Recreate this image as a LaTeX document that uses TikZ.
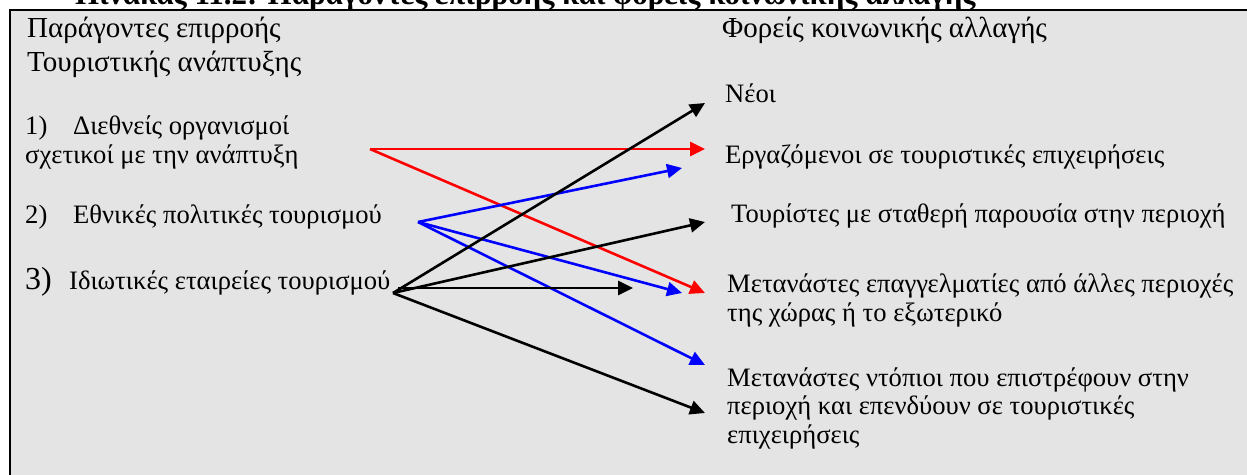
\documentclass[tikz,border=0pt]{standalone}
\usepackage{fontspec}
\setmainfont{Liberation Serif}
\usetikzlibrary{arrows.meta}
\definecolor{panelbg}{RGB}{228,228,228}
\tikzset{
  hdr/.style={anchor=base west, inner sep=0pt, align=left,
    font=\fontsize{29}{34}\selectfont},
  item/.style={anchor=base west, inner sep=0pt, align=left,
    font=\fontsize{26.6}{28.5}\selectfont},
  arr/.style={-{Triangle[length=15pt,width=14pt]}, line width=2.6pt},
}

\begin{document}
\begin{tikzpicture}[x=1pt, y=-1pt]
  \clip (0,0) rectangle (1247,474);
  \fill[panelbg] (10,10) rectangle (1260,490);
  \draw[line width=2.4pt] (10,490) -- (10,10) -- (1260,10);

  \node[anchor=base west, inner sep=0pt, font=\fontsize{31}{34}\selectfont\bfseries] (title) at (75,4)
    {Πίνακας 11.2: Παράγοντες επιρροής και φορείς κοινωνικής αλλαγής};

  \node[hdr] (hleft) at (27,71) {Παράγοντες επιρροής\\Τουριστικής ανάπτυξης};
  \node[hdr] (hright) at (722,37) {Φορείς κοινωνικής αλλαγής};

  \node[item] (org) at (25,163) {\makebox[48pt][l]{1)}Διεθνείς οργανισμοί\\σχετικοί με την ανάπτυξη};
  \node[item] (pol) at (25,223) {\makebox[48pt][l]{2)}Εθνικές πολιτικές τουρισμού};
  \node[item] (priv) at (25,289) {\makebox[44pt][l]{\fontsize{32}{32}\selectfont 3)}Ιδιωτικές εταιρείες τουρισμού};

  \node[item] (neoi) at (725,102) {Νέοι};
  \node[item] (erg) at (725,163) {Εργαζόμενοι σε τουριστικές επιχειρήσεις};
  \node[item] (tour) at (731,222) {Τουρίστες με σταθερή παρουσία στην περιοχή};
  \node[item] (metA) at (727,321) {Μετανάστες επαγγελματίες από άλλες περιοχές\\της χώρας ή το εξωτερικό};
  \node[item] (metB) at (727,443) {Μετανάστες ντόπιοι που επιστρέφουν στην\\περιοχή και επενδύουν σε τουριστικές\\επιχειρήσεις};

  \coordinate (orgout) at (370,149);
  \coordinate (polout) at (418,222);
  \coordinate (privout) at (393,293);
  \coordinate (privmid) at (398,288);
  \coordinate (toneoi) at (705,103);
  \coordinate (toerg) at (705,149);
  \coordinate (toergb) at (682,168);
  \coordinate (totour) at (705,222);
  \coordinate (tomid) at (633,288);
  \coordinate (tometb) at (682,293);
  \coordinate (tometa) at (705,293);
  \coordinate (tometba) at (705,365);
  \coordinate (tometbb) at (705,413);

  \draw[arr, red] (orgout) -- (toerg);
  \draw[arr, red] (orgout) -- (tometa);
  \draw[arr, blue] (polout) -- (toergb);
  \draw[arr, blue] (polout) -- (tometb);
  \draw[arr, blue] (polout) -- (tometba);
  \draw[arr] (privout) -- (toneoi);
  \draw[arr] (privout) -- (totour);
  \draw[arr] (privmid) -- (tomid);
  \draw[arr] (privout) -- (tometbb);
\end{tikzpicture}
\end{document}
